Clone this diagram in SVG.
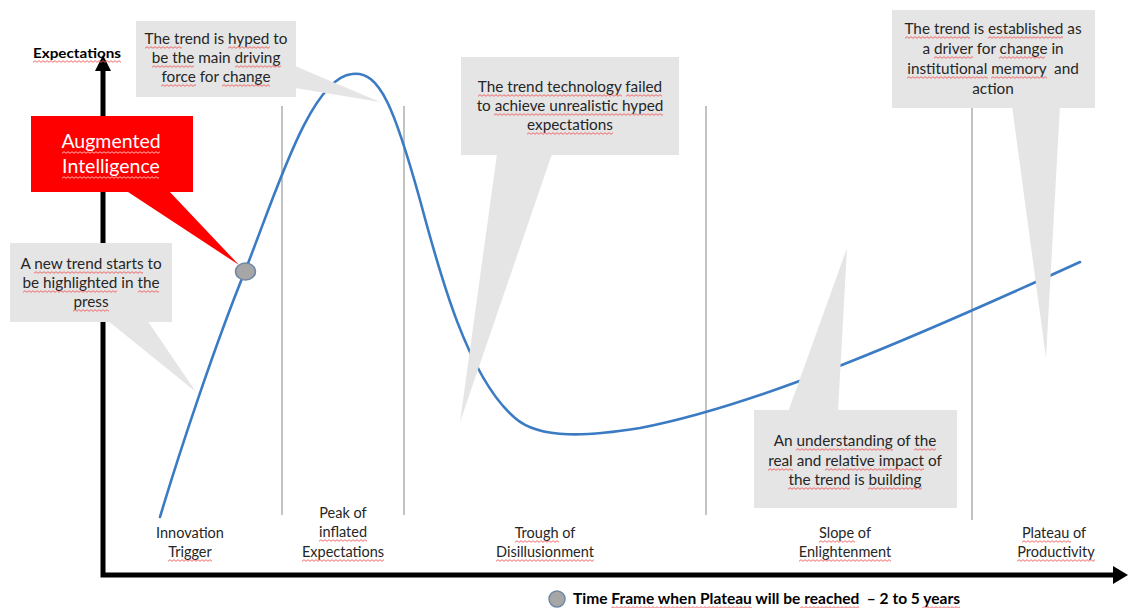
<svg xmlns="http://www.w3.org/2000/svg" width="1128" height="608" viewBox="0 0 1128 608">
  <defs>
    <!-- proofing squiggle tile -->
    <pattern id="wave" width="4" height="3" patternUnits="userSpaceOnUse">
      <path d="M0,2.3 L2,0.7 L4,2.3" fill="none" stroke="#f05a5a" stroke-width="0.9"/>
    </pattern>
    <pattern id="wave-light" width="4" height="3" patternUnits="userSpaceOnUse">
      <path d="M0,2.3 L2,0.7 L4,2.3" fill="none" stroke="#ffc8c8" stroke-width="0.9"/>
    </pattern>
  </defs>
  <style>
    .callout { fill: #e5e5e5; }
    .ctext { font-family: Lato, "Liberation Sans", sans-serif; font-size: 15.3px; fill: #262626; text-anchor: middle; }
    .phase { font-family: Lato, "Liberation Sans", sans-serif; font-size: 14.5px; fill: #262626; text-anchor: middle; }
    .axis { stroke: #000; stroke-width: 5; fill: none; }
    .sep { stroke: #9a9a9a; stroke-width: 1.2; }
    .curve { fill: none; stroke: #3a7bc4; stroke-width: 2.6; stroke-linecap: round; }
    .marker-dot { fill: #a6a6a6; stroke: #6d87a5; stroke-width: 1.5; }
    .bold { font-family: Lato, "Liberation Sans", sans-serif; font-weight: bold; fill: #000; }
    .sq { fill: url(#wave); }
    .sq-light { fill: url(#wave-light); }
  </style>

  <rect width="1128" height="608" fill="#fff"/>

  <!-- phase separators -->
  <g id="separators">
    <line class="sep" x1="282" y1="106" x2="282" y2="515"/>
    <line class="sep" x1="404" y1="106" x2="404" y2="515"/>
    <line class="sep" x1="706" y1="106" x2="706" y2="515"/>
    <line class="sep" x1="972" y1="107" x2="972" y2="520"/>
  </g>

  <!-- axes -->
  <g id="axes">
    <polyline class="axis" points="103,68 103,575 1114,575"/>
    <polygon points="103,55 95,71 111,71" fill="#000"/>
    <polygon points="1113,566 1128,575 1113,584" fill="#000"/>
    <text class="bold" x="33" y="58" font-size="14" textLength="88" lengthAdjust="spacingAndGlyphs">Expectations</text>
    <rect class="sq" transform="translate(33,60)" width="88" height="3"/>
  </g>

  <!-- hype cycle curve -->
  <g id="connectors">
    <path class="curve" d="M160,517 C180,450 215,345 245,271 C275,196 310,78 352,74 C380,70 395,110 420,200 C440,275 468,378 515,418 C540,440 590,436 640,428 C760,405 920,335 1080,262"/>
  </g>

  <!-- callout: peak -->
  <g id="callout-peak">
    <polygon class="callout" points="295,66 380,102 295,88"/>
    <rect class="callout" x="136" y="21" width="160" height="76"/>
    <text class="ctext" x="216" y="44">The trend is hyped to</text>
    <text class="ctext" x="216" y="63">be the main driving</text>
    <text class="ctext" x="216" y="82">force for change</text>
    <rect class="sq" transform="translate(145,46)" width="37" height="3"/>
    <rect class="sq" transform="translate(228,46)" width="42" height="3"/>
    <rect class="sq" transform="translate(152,65)" width="42" height="3"/>
    <rect class="sq" transform="translate(235,65)" width="46" height="3"/>
    <rect class="sq" transform="translate(161,84)" width="35" height="3"/>
    <rect class="sq" transform="translate(222,84)" width="48" height="3"/>
  </g>

  <!-- callout: trigger -->
  <g id="callout-trigger">
    <polygon class="callout" points="107,320 147,320 196,392"/>
    <rect class="callout" x="10" y="243" width="162" height="79"/>
    <text class="ctext" x="91" y="269">A new trend starts to</text>
    <text class="ctext" x="91" y="288">be highlighted in the</text>
    <text class="ctext" x="91" y="307">press</text>
    <rect class="sq" transform="translate(34,271)" width="109" height="3"/>
    <rect class="sq" transform="translate(23,290)" width="94" height="3"/>
    <rect class="sq" transform="translate(138,290)" width="21" height="3"/>
    <rect class="sq" transform="translate(73,309)" width="36" height="3"/>
  </g>

  <!-- callout: trough -->
  <g id="callout-trough">
    <polygon class="callout" points="497,154 552,154 460,422"/>
    <rect class="callout" x="461" y="57" width="218" height="98"/>
    <text class="ctext" x="570" y="92">The trend technology failed</text>
    <text class="ctext" x="570" y="111">to achieve unrealistic hyped</text>
    <text class="ctext" x="570" y="130">expectations</text>
    <rect class="sq" transform="translate(478,94)" width="144" height="3"/>
    <rect class="sq" transform="translate(626,94)" width="36" height="3"/>
    <rect class="sq" transform="translate(494,113)" width="169" height="3"/>
    <rect class="sq" transform="translate(527,132)" width="86" height="3"/>
  </g>

  <!-- callout: slope -->
  <g id="callout-slope">
    <polygon class="callout" points="788,412 838,412 847,248"/>
    <rect class="callout" x="754" y="410" width="203" height="98"/>
    <text class="ctext" x="855" y="446">An understanding of the</text>
    <text class="ctext" x="855" y="466">real and relative impact of</text>
    <text class="ctext" x="855" y="485">the trend is building</text>
    <rect class="sq" transform="translate(796,448)" width="97" height="3"/>
    <rect class="sq" transform="translate(914,448)" width="22" height="3"/>
    <rect class="sq" transform="translate(768,468)" width="25" height="3"/>
    <rect class="sq" transform="translate(825,468)" width="99" height="3"/>
    <rect class="sq" transform="translate(788,487)" width="62" height="3"/>
    <rect class="sq" transform="translate(868,487)" width="54" height="3"/>
  </g>

  <!-- callout: plateau -->
  <g id="callout-plateau">
    <polygon class="callout" points="1012,106 1060,106 1046,358"/>
    <rect class="callout" x="892" y="10" width="203" height="98"/>
    <text class="ctext" x="993" y="34">The trend is established as</text>
    <text class="ctext" x="993" y="54">a driver for change in</text>
    <text class="ctext" x="993" y="74" xml:space="preserve">institutional memory  and</text>
    <text class="ctext" x="993" y="94">action</text>
    <rect class="sq" transform="translate(905,36)" width="65" height="3"/>
    <rect class="sq" transform="translate(988,36)" width="75" height="3"/>
    <rect class="sq" transform="translate(934,56)" width="39" height="3"/>
    <rect class="sq" transform="translate(999,56)" width="46" height="3"/>
    <rect class="sq" transform="translate(907,76)" width="81" height="3"/>
    <rect class="sq" transform="translate(991,76)" width="56" height="3"/>
  </g>

  <!-- highlighted technology -->
  <g id="augmented-intelligence">
    <polygon points="125,190 168,190 239,265" fill="#ff0000"/>
    <rect x="31" y="116" width="162" height="76" fill="#ff0000"/>
    <text x="111" y="148" font-family="Lato, 'Liberation Sans', sans-serif" font-size="19.5" fill="#fff" text-anchor="middle">Augmented</text>
    <text x="111" y="173" font-family="Lato, 'Liberation Sans', sans-serif" font-size="19.5" fill="#fff" text-anchor="middle">Intelligence</text>
    <rect class="sq-light" transform="translate(62,151)" width="98" height="3"/>
    <rect class="sq-light" transform="translate(62,176)" width="97" height="3"/>
    <ellipse class="marker-dot" cx="245.5" cy="271.5" rx="10" ry="8.5"/>
  </g>

  <!-- phase labels -->
  <g id="phase-labels">
    <text class="phase" x="190" y="538">Innovation</text>
    <text class="phase" x="190" y="557">Trigger</text>
    <text class="phase" x="343" y="518">Peak of</text>
    <text class="phase" x="343" y="537">inflated</text>
    <text class="phase" x="343" y="557">Expectations</text>
    <text class="phase" x="545" y="538">Trough of</text>
    <text class="phase" x="545" y="557">Disillusionment</text>
    <text class="phase" x="845" y="538">Slope of</text>
    <text class="phase" x="845" y="557">Enlightenment</text>
    <text class="phase" x="1054" y="538">Plateau of</text>
    <text class="phase" x="1056" y="557">Productivity</text>
    <rect class="sq" transform="translate(168,559)" width="44" height="3"/>
    <rect class="sq" transform="translate(319,539)" width="48" height="3"/>
    <rect class="sq" transform="translate(302,559)" width="82" height="3"/>
    <rect class="sq" transform="translate(515,540)" width="44" height="3"/>
    <rect class="sq" transform="translate(496,559)" width="98" height="3"/>
    <rect class="sq" transform="translate(819,540)" width="36" height="3"/>
    <rect class="sq" transform="translate(799,559)" width="92" height="3"/>
    <rect class="sq" transform="translate(1022,540)" width="49" height="3"/>
    <rect class="sq" transform="translate(1017,559)" width="78" height="3"/>
  </g>

  <!-- legend -->
  <g id="legend">
    <ellipse class="marker-dot" cx="557" cy="599" rx="8" ry="8"/>
    <text class="bold" x="573" y="604" font-size="15" textLength="387" lengthAdjust="spacingAndGlyphs" xml:space="preserve">Time Frame when Plateau will be reached  – 2 to 5 years</text>
    <rect class="sq" transform="translate(611,606)" width="141" height="2"/>
    <rect class="sq" transform="translate(800,606)" width="59" height="2"/>
    <rect class="sq" transform="translate(922,606)" width="38" height="2"/>
  </g>
</svg>
